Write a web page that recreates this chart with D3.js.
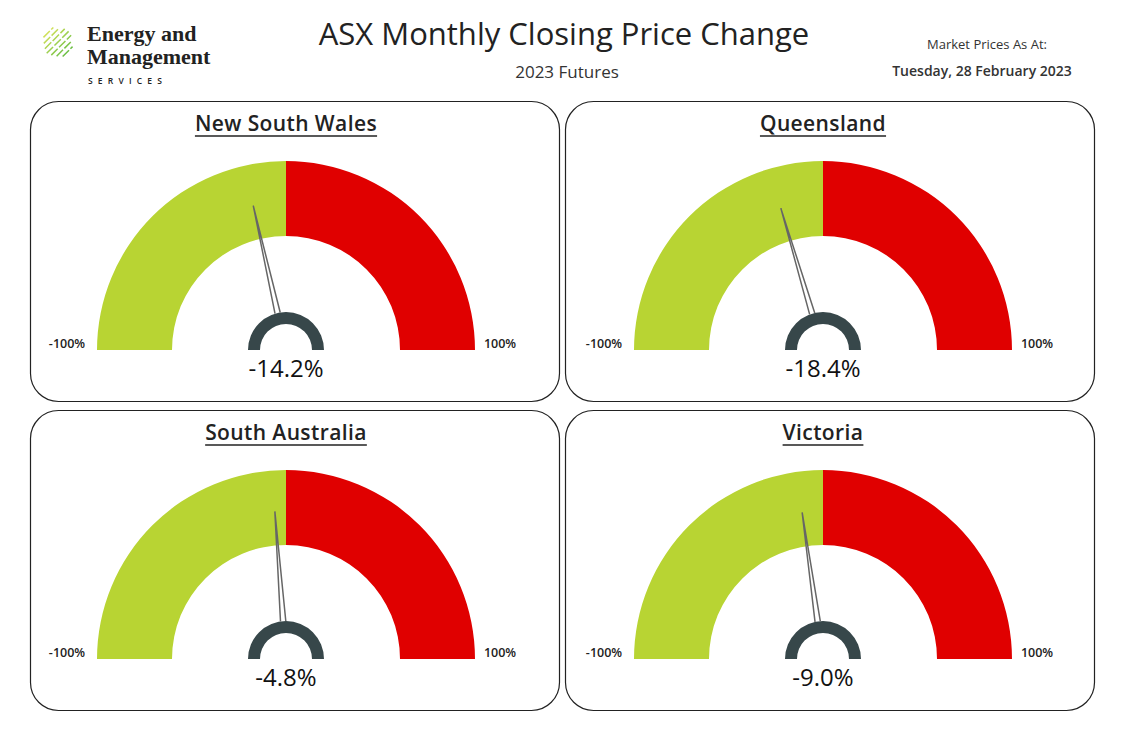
<!DOCTYPE html>
<html><head><meta charset="utf-8">
<script src="https://cdn.jsdelivr.net/npm/d3@7"></script>
<style>body{margin:0;background:#fff;font-family:"Open Sans","Segoe UI",sans-serif}</style>
</head><body><svg id="c" width="1132" height="738"></svg>
<script>
const regions = ["New South Wales","Queensland","South Australia","Victoria"];
const changes = [-14.2,-18.4,-4.8,-9.0];
const gaugeMin = -100, gaugeMax = 100;
const minLabel = "-100%", maxLabel = "100%";

const svg = d3.select("#c");
const logo = svg.append("g");
const stripeLens = [14,22,28,32,28,22,14];
stripeLens.forEach((len,i)=>{
  const k = i-3;
  const mx = 58 + k*3.2, my = 42 + k*3.2;
  const h = len/2/Math.SQRT2;
  logo.append("line").attr("x1",mx-h).attr("y1",my+h).attr("x2",mx+h).attr("y2",my-h)
    .attr("stroke",d3.interpolateRgb("#cfe05a","#6cbf45")(i/6)).attr("stroke-width",1.5).attr("stroke-dasharray","9 2");
});
const serif="Liberation Serif,DejaVu Serif,serif";
logo.append("text").attr("x",87).attr("y",41).attr("font-family",serif).attr("font-weight","bold").attr("font-size",22).attr("fill","#222").text("Energy and");
logo.append("text").attr("x",87).attr("y",64).attr("font-family",serif).attr("font-weight","bold").attr("font-size",22).attr("fill","#222").text("Management");
logo.append("text").attr("x",88).attr("y",84).attr("font-size",8.5).attr("font-weight","600").attr("letter-spacing",5.2).attr("fill","#222").text("SERVICES");
svg.append("text").attr("x",564).attr("y",45).attr("text-anchor","middle").attr("font-size",31).attr("fill","#222").text("ASX Monthly Closing Price Change");
svg.append("text").attr("x",567).attr("y",78).attr("text-anchor","middle").attr("font-size",17).attr("fill","#333").text("2023 Futures");
svg.append("text").attr("x",987).attr("y",49).attr("text-anchor","middle").attr("font-size",13).attr("fill","#333").text("Market Prices As At:");
svg.append("text").attr("x",982).attr("y",76).attr("text-anchor","middle").attr("font-size",14).attr("font-weight","600").attr("fill","#333").text("Tuesday, 28 February 2023");

const angle = d3.scaleLinear().domain([gaugeMin,gaugeMax]).range([-Math.PI/2,Math.PI/2]);
const panels = [[30,101,256],[565,101,258],[30,410,256],[565,410,258]];
regions.forEach((r,i)=>{
  const [px,py,cx]=panels[i];
  const g = svg.append("g").attr("transform",`translate(${px},${py})`);
  g.append("rect").attr("x",0.5).attr("y",0.5).attr("width",529).attr("height",300).attr("rx",28).attr("fill","#fff").attr("stroke","#222").attr("stroke-width",1.2);
  const t = g.append("text").attr("x",cx).attr("y",30).attr("text-anchor","middle").attr("font-size",21).attr("font-weight","600").attr("letter-spacing",0.4).attr("fill","#222").text(r);
  const bb = t.node().getBBox();
  g.append("line").attr("x1",bb.x).attr("x2",bb.x+bb.width).attr("y1",35).attr("y2",35).attr("stroke","#222").attr("stroke-width",1.5);
  const c = g.append("g").attr("transform",`translate(${cx},249)`);
  const arc = d3.arc().innerRadius(114).outerRadius(189);
  c.append("path").attr("d",arc({startAngle:angle(gaugeMin),endAngle:angle(0)})).attr("fill","#b8d433");
  c.append("path").attr("d",arc({startAngle:angle(0),endAngle:angle(gaugeMax)})).attr("fill","#e00000");
  const a = angle(changes[i]);
  const pt=(rad,ang)=>[rad*Math.sin(ang),-rad*Math.cos(ang)];
  const tip=pt(148,a), b1=pt(38,a-0.07), b2=pt(38,a+0.07);
  c.append("path").attr("d",`M${b1}L${tip}L${b2}`).attr("fill","#fff").attr("stroke","#666").attr("stroke-width",1.5);
  c.append("path").attr("d",d3.arc().innerRadius(26).outerRadius(38)({startAngle:-Math.PI/2,endAngle:Math.PI/2})).attr("fill","#37474a");
  g.append("text").attr("x",cx-219).attr("y",247).attr("text-anchor","middle").attr("font-size",12.5).attr("font-weight","600").attr("fill","#222").text(minLabel);
  g.append("text").attr("x",cx+214).attr("y",247).attr("text-anchor","middle").attr("font-size",12.5).attr("font-weight","600").attr("fill","#222").text(maxLabel);
  g.append("text").attr("x",cx).attr("y",276).attr("text-anchor","middle").attr("font-size",24).attr("fill","#111").text(changes[i].toFixed(1)+"%");
});
</script></body></html>
